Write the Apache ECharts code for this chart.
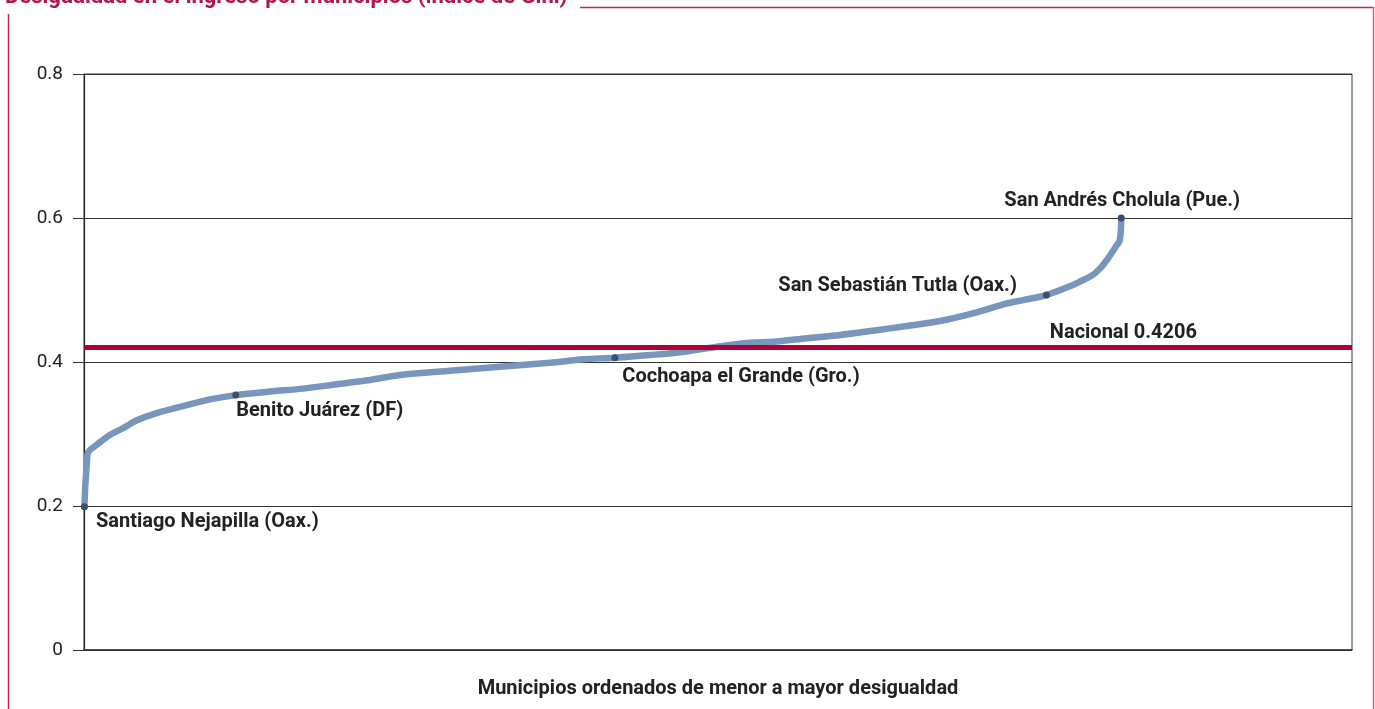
<!DOCTYPE html>
<html>
<head>
<meta charset="utf-8">
<script src="https://cdn.jsdelivr.net/npm/echarts@6/dist/echarts.min.js"></script>
<style>
html,body{margin:0;padding:0;background:#fff;}
#chart{width:1375px;height:709px;}
</style>
</head>
<body>
<div id="chart"></div>
<script>
// Municipalities ranked from lowest to highest inequality (rank, Gini)
const rankIdx = [1,2,3,5,7,10,30,61,92,125,172,243,298,359,440,518,598,677,748,866,984,1103,1181,1256,1339,1417,1498,1576,1630,1711,1789,1867,1947,2025,2103,2184,2222,2277,2340,2356,2387,2404,2420,2432,2442,2450,2453,2454];
const giniVals = [0.199,0.215,0.228,0.245,0.262,0.275,0.285,0.2986,0.308,0.319,0.329,0.340,0.348,0.354,0.359,0.363,0.369,0.375,0.382,0.388,0.3935,0.399,0.4037,0.406,0.4097,0.414,0.4213,0.4268,0.428,0.433,0.4375,0.4435,0.450,0.457,0.4676,0.4815,0.486,0.493,0.507,0.5115,0.521,0.530,0.5417,0.552,0.561,0.568,0.582,0.600];

// Highlighted municipalities
const hlNames = ['Santiago Nejapilla (Oax.)','Benito Juárez (DF)','Cochoapa el Grande (Gro.)','San Sebastián Tutla (Oax.)','San Andrés Cholula (Pue.)'];
const hlIdx = [1,359,1256,2277,2454];
const hlVals = [0.199,0.354,0.406,0.493,0.600];

const nacional = 0.4206;
const yTicks = [0,0.2,0.4,0.6,0.8];

const titleText = 'Desigualdad en el ingreso por municipios (índice de Gini)';
const xName = 'Municipios ordenados de menor a mayor desigualdad';

const FONT = 'Roboto, "Liberation Sans", sans-serif';
const LBL = {color:'#222', fontWeight:'bold', fontSize:20, fontFamily:FONT};
const labelStyles = [
  {position:'right', distance:0, offset:[8,15]},
  {position:'right', distance:0, offset:[-3,16]},
  {position:'right', distance:0, offset:[4,19]},
  {position:'left', distance:0, offset:[-26,-9]},
  {position:'top', distance:0, offset:[1,-4]}
];

const chart = echarts.init(document.getElementById('chart'), null, {renderer:'canvas'});
const lineData = rankIdx.map((r,i)=>[r,giniVals[i]]);
const hlData = hlIdx.map((r,i)=>({
  value:[r,hlVals[i]],
  name:hlNames[i],
  label:Object.assign({show:true, formatter:hlNames[i]}, LBL, labelStyles[i])
}));

chart.setOption({
  animation:false,
  backgroundColor:'#fff',
  grid:{left:84,right:23,top:74,bottom:59,show:true,borderColor:'#3a3a3a',borderWidth:1},
  graphic:[
    {type:'text', left:5, top:-14, style:{text:titleText, fill:'#b3174a', font:'bold 22px '+FONT}},
    {type:'line', shape:{x1:580,y1:7.5,x2:1373.5,y2:7.5}, style:{stroke:'#c2285c',lineWidth:1.5}},
    {type:'line', shape:{x1:8.5,y1:14,x2:8.5,y2:709}, style:{stroke:'#c2285c',lineWidth:1.5}},
    {type:'line', shape:{x1:1373.5,y1:7,x2:1373.5,y2:709}, style:{stroke:'#d8578a',lineWidth:1.5}}
  ],
  xAxis:{
    type:'value', min:0, max:3000,
    name:xName, nameLocation:'middle', nameGap:29,
    nameTextStyle:{color:'#222', fontWeight:'bold', fontSize:20, fontFamily:FONT},
    axisLine:{show:true, lineStyle:{color:'#333', width:1.5}},
    axisTick:{show:false}, axisLabel:{show:false}, splitLine:{show:false}
  },
  yAxis:{
    type:'value', min:0, max:0.8, interval:0.2,
    axisLine:{show:true, lineStyle:{color:'#222', width:1.2}},
    axisTick:{show:true, length:11, lineStyle:{color:'#333'}},
    axisLabel:{margin:21, color:'#222', fontSize:19, fontFamily:FONT,
      formatter:v=>{const t=yTicks.find(x=>Math.abs(x-v)<1e-9); return t===0?'0':(t!==undefined?t.toFixed(1):'');}},
    splitLine:{show:true, lineStyle:{color:'#333', width:1}}
  },
  series:[
    {
      type:'line', data:lineData, showSymbol:false, smooth:0.3,
      lineStyle:{color:'#7895bc', width:6.5, cap:'round', join:'round'},
      z:3,
      markLine:{
        silent:true, symbol:'none',
        lineStyle:{color:'#b0003a', width:5, type:'solid'},
        label:Object.assign({show:true, position:'insideEndTop', formatter:'Nacional '+nacional,
          padding:[0,150,0,0]}, LBL),
        data:[{yAxis:nacional}]
      }
    },
    {
      type:'scatter', data:hlData, symbolSize:7, z:5,
      itemStyle:{color:'#3d5068', opacity:1}
    }
  ]
});
</script>
</body>
</html>
